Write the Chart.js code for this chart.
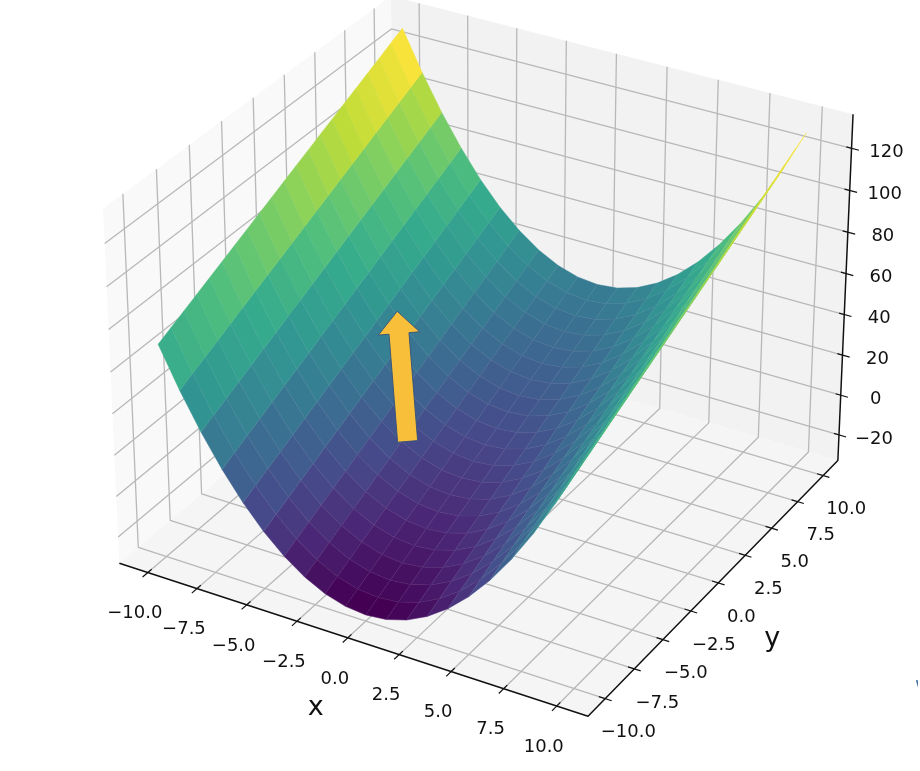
<!DOCTYPE html>
<html><head><meta charset="utf-8">
<style>html,body{margin:0;padding:0;background:#fff}canvas{display:block}</style>
<script src="https://cdn.jsdelivr.net/npm/chart.js@4"></script>
</head><body><canvas id="c" width="920" height="771"></canvas>
<script>
const xValues=[-10,-9,-8,-7,-6,-5,-4,-3,-2,-1,0,1,2,3,4,5,6,7,8,9,10];
const yValues=[-10,-9,-8,-7,-6,-5,-4,-3,-2,-1,0,1,2,3,4,5,6,7,8,9,10];
const zRows=[
[70,51,34,19,6,-5,-14,-21,-26,-29,-30,-29,-26,-21,-14,-5,6,19,34,51,70],
[73,54,37,22,9,-2,-11,-18,-23,-26,-27,-26,-23,-18,-11,-2,9,22,37,54,73],
[76,57,40,25,12,1,-8,-15,-20,-23,-24,-23,-20,-15,-8,1,12,25,40,57,76],
[79,60,43,28,15,4,-5,-12,-17,-20,-21,-20,-17,-12,-5,4,15,28,43,60,79],
[82,63,46,31,18,7,-2,-9,-14,-17,-18,-17,-14,-9,-2,7,18,31,46,63,82],
[85,66,49,34,21,10,1,-6,-11,-14,-15,-14,-11,-6,1,10,21,34,49,66,85],
[88,69,52,37,24,13,4,-3,-8,-11,-12,-11,-8,-3,4,13,24,37,52,69,88],
[91,72,55,40,27,16,7,0,-5,-8,-9,-8,-5,0,7,16,27,40,55,72,91],
[94,75,58,43,30,19,10,3,-2,-5,-6,-5,-2,3,10,19,30,43,58,75,94],
[97,78,61,46,33,22,13,6,1,-2,-3,-2,1,6,13,22,33,46,61,78,97],
[100,81,64,49,36,25,16,9,4,1,0,1,4,9,16,25,36,49,64,81,100],
[103,84,67,52,39,28,19,12,7,4,3,4,7,12,19,28,39,52,67,84,103],
[106,87,70,55,42,31,22,15,10,7,6,7,10,15,22,31,42,55,70,87,106],
[109,90,73,58,45,34,25,18,13,10,9,10,13,18,25,34,45,58,73,90,109],
[112,93,76,61,48,37,28,21,16,13,12,13,16,21,28,37,48,61,76,93,112],
[115,96,79,64,51,40,31,24,19,16,15,16,19,24,31,40,51,64,79,96,115],
[118,99,82,67,54,43,34,27,22,19,18,19,22,27,34,43,54,67,82,99,118],
[121,102,85,70,57,46,37,30,25,22,21,22,25,30,37,46,57,70,85,102,121],
[124,105,88,73,60,49,40,33,28,25,24,25,28,33,40,49,60,73,88,105,124],
[127,108,91,76,63,52,43,36,31,28,27,28,31,36,43,52,63,76,91,108,127],
[130,111,94,79,66,55,46,39,34,31,30,31,34,39,46,55,66,79,94,111,130]
];
const xTicks=[-10,-7.5,-5,-2.5,0,2.5,5,7.5,10];
const yTicks=[-10,-7.5,-5,-2.5,0,2.5,5,7.5,10];
const zTicks=[-20,0,20,40,60,80,100,120];
const xTickLabels=["−10.0","−7.5","−5.0","−2.5","0.0","2.5","5.0","7.5","10.0"];
const yTickLabels=["−10.0","−7.5","−5.0","−2.5","0.0","2.5","5.0","7.5","10.0"];
const zTickLabels=["−20","0","20","40","60","80","100","120"];
const xLimits=[-11.458,11.458];
const yLimits=[-11.458,11.458];
const zLimits=[-33,136];
const arrowTail=[-0.01646,-0.02159];
const arrowTip=[-0.01867,0.00597];
const edgeMark=[[0.0917,-0.0722],[0.0921,-0.0722],[0.0921,-0.0738]];
const viridis=["#440154","#482475","#414487","#355f8d","#2a788e","#21918c","#22a884","#44bf70","#7ad151","#bddf26","#fde725"];

// matplotlib style camera (elev 30, azim -60, dist 10, box 4:4:3)
const boxA=[1.1428,1.1428,0.8571];
const U=[0.8660,0.5,0],V=[-0.25,0.4330,0.8660],N=[0.4330,-0.75,0.5];
function rel(x,y,z){return [
 ((x-xLimits[0])/(xLimits[1]-xLimits[0])-0.5)*boxA[0],
 ((y-yLimits[0])/(yLimits[1]-yLimits[0])-0.5)*boxA[1],
 ((z-zLimits[0])/(zLimits[1]-zLimits[0])-0.5)*boxA[2]];}
const dot=(a,b)=>a[0]*b[0]+a[1]*b[1]+a[2]*b[2];
function project(x,y,z){const d=rel(x,y,z),w=10-dot(d,N);return {x:dot(d,U)/w,y:dot(d,V)/w};}
function depth(x,y,z){return dot(rel(x,y,z),N);}

function hex(c){return [1,3,5].map(i=>parseInt(c.substr(i,2),16));}
function mix(t,extra){t=Math.max(0,Math.min(1,t));const veil=Math.min(0.12,0.2*t)+extra;t*=viridis.length-1;const i=Math.min(Math.floor(t),viridis.length-2),f=t-i;
 const a=hex(viridis[i]),b=hex(viridis[i+1]);return `rgb(${a.map((v,k)=>Math.round((v+(b[k]-v)*f)*(1-veil)+200*veil)).join(",")})`;}

const ds=[];
function poly(pts,fillColor,line,width){ds.push({data:pts,showLine:true,fill:fillColor?'shape':false,backgroundColor:fillColor||'transparent',borderColor:line||'transparent',borderWidth:width||0,pointRadius:0,tension:0,borderJoinStyle:'round'});}
function path(pts,color,width){poly(pts,null,color,width);}
const [x0,x1]=xLimits,[y0,y1]=yLimits,[z0,z1]=zLimits;
// panes
poly([project(x0,y0,z0),project(x0,y1,z0),project(x0,y1,z1),project(x0,y0,z1),project(x0,y0,z0)],'#f9f9f9');
poly([project(x0,y1,z0),project(x1,y1,z0),project(x1,y1,z1),project(x0,y1,z1),project(x0,y1,z0)],'#f2f2f2');
poly([project(x0,y0,z0),project(x1,y0,z0),project(x1,y1,z0),project(x0,y1,z0),project(x0,y0,z0)],'#f5f5f5');
// grid
const gridCol='#b8b8b8',gridW=1.3;
xTicks.forEach(t=>path([project(t,y0,z0),project(t,y1,z0),project(t,y1,z1)],gridCol,gridW));
yTicks.forEach(t=>path([project(x1,t,z0),project(x0,t,z0),project(x0,t,z1)],gridCol,gridW));
zTicks.forEach(t=>path([project(x0,y0,t),project(x0,y1,t),project(x1,y1,t)],gridCol,gridW));
// axes and ticks
const axisCol='#111',axisW=1.5;
path([project(x0,y0,z0),project(x1,y0,z0),project(x1,y1,z0),project(x1,y1,z1)],axisCol,axisW);
xTicks.forEach(t=>path([project(t,y0+0.3,z0),project(t,y0-0.4,z0)],axisCol,1.2));
yTicks.forEach(t=>path([project(x1-0.3,t,z0),project(x1+0.3,t,z0)],axisCol,1.2));
zTicks.forEach(t=>path([project(x1-0.25,y1,t),project(x1+0.35,y1,t)],axisCol,1.2));
// surface quads, painter's order
const quads=[];
for(let j=0;j<yValues.length-1;j++)for(let i=0;i<xValues.length-1;i++){
 const c=[[i,j],[i+1,j],[i+1,j+1],[i,j+1]];
 let za=0,de=0;const pts=c.map(([a,b])=>{const z=zRows[b][a];za+=z;de+=depth(xValues[a],yValues[b],z);return project(xValues[a],yValues[b],z);});
 quads.push({pts:[...pts,pts[0]],z:za/4,d:de/4});
}
quads.sort((a,b)=>a.d-b.d);
const zlo=Math.min(...quads.map(q=>q.z)),zhi=Math.max(...quads.map(q=>q.z));
quads.forEach(q=>{const t=(q.z-zlo)/(zhi-zlo);poly(q.pts,mix(t,0),mix(t,0.1*(1-t)),0.5);});
// arrow annotation
(function(){
 const dx=arrowTip[0]-arrowTail[0],dy=arrowTip[1]-arrowTail[1],L=Math.hypot(dx,dy),ux=dx/L,uy=dy/L,px=-uy,py=ux;
 const sh=0.00213,hh=0.0044,hl=0.0047;
 const nx=arrowTip[0]-ux*hl,ny=arrowTip[1]-uy*hl;
 const P=(a,b)=>({x:a,y:b});
 poly([P(arrowTail[0]+px*sh,arrowTail[1]+py*sh),P(nx+px*sh,ny+py*sh),P(nx+px*hh,ny+py*hh),P(arrowTip[0],arrowTip[1]),
  P(nx-px*hh,ny-py*hh),P(nx-px*sh,ny-py*sh),P(arrowTail[0]-px*sh,arrowTail[1]-py*sh),P(arrowTail[0]+px*sh,arrowTail[1]+py*sh)],'#f8bf3a','#34507c',0.9);
})();
poly([...edgeMark,edgeMark[0]].map(p=>({x:p[0],y:p[1]})),'#2f5f8f');
ds.forEach((d,i)=>d.order=-i);

const textPlugin={id:'axisText',afterDraw(chart){
 const c=chart.ctx,sx=chart.scales.x,sy=chart.scales.y;
 const pix=p=>[sx.getPixelForValue(p.x),sy.getPixelForValue(p.y)];
 c.save();c.fillStyle='#111';c.textAlign='center';c.textBaseline='middle';
 c.font='18px "DejaVu Sans"';
 xTicks.forEach((t,i)=>{const [a,b]=pix(project(t,y0,z0));c.fillText(xTickLabels[i],a-13,b+41);});
 yTicks.forEach((t,i)=>{const [a,b]=pix(project(x1,t,z0));c.fillText(yTickLabels[i],a+23,b+34);});
 zTicks.forEach((t,i)=>{const [a,b]=pix(project(x1,y1,t));c.fillText(zTickLabels[i],a+35,b+4);});
 c.font='27px "DejaVu Sans"';
 let [a,b]=pix(project(0,y0,z0));c.fillText('x',a-32,b+70);
 [a,b]=pix(project(x1,0,z0));c.fillText('y',a+54,b+56);
 c.restore();
}};

new Chart(document.getElementById('c'),{type:'scatter',data:{datasets:ds},plugins:[textPlugin],options:{
 responsive:false,animation:false,parsing:false,normalized:false,
 layout:{padding:0},
 plugins:{legend:{display:false},tooltip:{enabled:false},title:{display:false}},
 scales:{
  x:{type:'linear',display:false,min:-0.10319,max:0.09256},
  y:{type:'linear',display:false,min:-0.09142,max:0.07193}
 }}});
</script></body></html>
